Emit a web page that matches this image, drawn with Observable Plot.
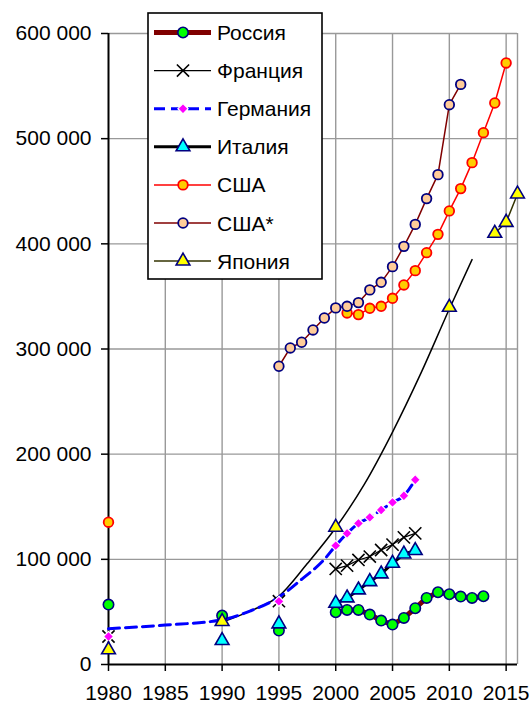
<!DOCTYPE html>
<html>
<head>
<meta charset="utf-8">
<script src="https://cdn.jsdelivr.net/npm/d3@7"></script>
<script src="https://cdn.jsdelivr.net/npm/@observablehq/plot@0.6"></script>
<style>
  html, body { margin: 0; padding: 0; background: #fff; }
  #wrap { position: relative; width: 529px; height: 703px; overflow: hidden; }
  #wrap > svg { position: absolute; left: 0; top: 0; }
</style>
</head>
<body>
<div id="wrap"></div>
<script>
// ---------- data ----------
const xTicks = [1980, 1985, 1990, 1995, 2000, 2005, 2010, 2015];
const yTicks = [0, 100000, 200000, 300000, 400000, 500000, 600000];

const russiaYears  = [1980, 1990, 1995, 2000, 2001, 2002, 2003, 2004, 2005, 2006, 2007, 2008, 2009, 2010, 2011, 2012, 2013];
const russiaValues = [57000, 46500, 32300, 49700, 51900, 51900, 47500, 41800, 38000, 44300, 53500, 63300, 68700, 66800, 64600, 63300, 64900];

const franceYears  = [1980, 1995, 2000, 2001, 2002, 2003, 2004, 2005, 2006, 2007];
const franceValues = [26600, 60200, 90900, 94000, 99400, 102600, 108900, 114000, 120900, 124700];

const germanyYears  = [1980, 1995, 2000, 2001, 2002, 2003, 2004, 2005, 2006, 2007];
const germanyValues = [26600, 60000, 113000, 124700, 134200, 139900, 146900, 154100, 160500, 175700];
const germanyTrendYears  = [1980, 1985, 1990, 1992.5, 1995, 1997, 1999];
const germanyTrendValues = [34000, 37500, 42500, 51000, 64000, 81000, 100000];

const italyYears  = [1990, 1995, 2000, 2001, 2002, 2003, 2004, 2005, 2006, 2007];
const italyValues = [22800, 38600, 58200, 63300, 70900, 78800, 86100, 96200, 105100, 108300];

const usaYears  = [1980, 2001, 2002, 2003, 2004, 2005, 2006, 2007, 2008, 2009, 2010, 2011, 2012, 2013, 2014, 2015];
const usaValues = [135300, 334300, 332700, 338700, 340600, 348200, 360900, 374500, 391600, 409000, 431300, 452500, 477200, 505700, 533900, 572000];

const usaStarYears  = [1995, 1996, 1997, 1998, 1999, 2000, 2001, 2002, 2003, 2004, 2005, 2006, 2007, 2008, 2009, 2010, 2011];
const usaStarValues = [283600, 301000, 306400, 318100, 329500, 339100, 340600, 344100, 356200, 363400, 378300, 397600, 418500, 443000, 465800, 532300, 551600];

const japanYears  = [1980, 1990, 2000, 2010, 2014, 2015, 2016];
const japanValues = [14000, 40800, 130500, 339600, 410000, 420400, 447400];
const japanTrendYears  = [1990.2, 1992.5, 1995, 1997.5, 2000, 2002.5, 2005, 2007.5, 2010, 2012];
const japanTrendValues = [41000, 51000, 65000, 96000, 130000, 171000, 221000, 277000, 338000, 385000];

const legendNames = ["Россия", "Франция", "Германия", "Италия", "США", "США*", "Япония"];

// ---------- styles ----------
const styles = {
  "Россия":   {line: "#800000", lw: 5,   dash: null,   symbol: "circle",   r: 5.2, fill: "#00ff00", stroke: "#000080", sw: 1.6, from: 2000},
  "Франция":  {line: "#000000", lw: 1.2, dash: null,   symbol: "times",    r: 5.6, fill: "none",    stroke: "#000000", sw: 1.6, from: 2000},
  "Германия": {line: "#0000ff", lw: 3,   dash: "11,6", symbol: "diamond2", r: 4.6, fill: "#ff00ff", stroke: "#ffffff", sw: 1.2, from: 1980},
  "Италия":   {line: "#000000", lw: 3,   dash: null,   symbol: "triangle", r: 5.1, fill: "#00ffff", stroke: "#000080", sw: 1.6, from: 2000},
  "США":      {line: "#ff0000", lw: 1.5, dash: null,   symbol: "circle",   r: 4.8, fill: "#ffcc00", stroke: "#ff0000", sw: 1.8, from: 2001},
  "США*":     {line: "#800000", lw: 1.5, dash: null,   symbol: "circle",   r: 4.8, fill: "#ffcc99", stroke: "#000080", sw: 1.8, from: 1995},
  "Япония":   {line: "#333300", lw: 1.5, dash: null,   symbol: "triangle", r: 5.1, fill: "#ffff00", stroke: "#000080", sw: 1.6, from: 2014}
};

const zip = (xs, ys) => xs.map((x, i) => ({x, y: ys[i]}));
const seriesData = {
  "Россия": zip(russiaYears, russiaValues),
  "Франция": zip(franceYears, franceValues),
  "Германия": zip(germanyYears, germanyValues),
  "Италия": zip(italyYears, italyValues),
  "США": zip(usaYears, usaValues),
  "США*": zip(usaStarYears, usaStarValues),
  "Япония": zip(japanYears, japanValues)
};
// Germany dashed line: read trend before 2000 joined with the series itself
const germanyLine = zip(germanyTrendYears, germanyTrendValues)
  .concat(seriesData["Германия"].filter(d => d.x >= 2000));
const japanTrend = zip(japanTrendYears, japanTrendValues);

const fmt = d => d3.format(",")(d).replace(/,/g, "\u00a0");
const FONT = "'Liberation Sans', Arial, sans-serif";

const lineMarks = legendNames.map(name => {
  const s = styles[name];
  const data = name === "Германия" ? germanyLine : seriesData[name].filter(d => d.x >= s.from);
  return Plot.line(data, {
    x: "x", y: "y", stroke: s.line, strokeWidth: s.lw,
    strokeDasharray: s.dash || undefined,
    curve: name === "Германия" ? "monotone-x" : "linear"
  });
});
const dotMarks = legendNames.map(name => {
  const s = styles[name];
  return Plot.dot(seriesData[name], {
    x: "x", y: "y", symbol: () => s.symbol, r: s.r,
    fill: s.fill, stroke: s.stroke, strokeWidth: s.sw
  });
});

const chart = Plot.plot({
  width: 529,
  height: 703,
  marginLeft: 108,
  marginRight: 12,
  marginTop: 33,
  marginBottom: 39,
  style: {fontFamily: FONT, fontSize: "21px", background: "white", color: "black", overflow: "visible"},
  x: {domain: [1980, 2016]},
  y: {domain: [0, 600000]},
  symbol: {type: "identity"},
  marks: [
    Plot.ruleX(xTicks.slice(1).concat([2016]), {stroke: "#999999", strokeWidth: 1.4}),
    Plot.ruleY(yTicks.slice(1), {stroke: "#999999", strokeWidth: 1.4}),
    Plot.axisX({ticks: xTicks, tickFormat: d => String(d), tickSize: 7, tickPadding: 14, label: null, fontSize: 21, strokeWidth: 1.5}),
    Plot.axisY({ticks: yTicks, tickFormat: fmt, tickSize: 7, tickPadding: 10, label: null, fontSize: 21, strokeWidth: 1.5}),
    Plot.ruleX([1980], {stroke: "black", strokeWidth: 2}),
    Plot.ruleY([0], {stroke: "black", strokeWidth: 2}),
    Plot.line(japanTrend, {x: "x", y: "y", stroke: "black", strokeWidth: 1.5, curve: "monotone-x"}),
    ...lineMarks,
    ...dotMarks
  ]
});
document.getElementById("wrap").appendChild(chart);

// ---------- legend (overlay) ----------
const symbolTypes = {circle: d3.symbolCircle, times: d3.symbolTimes, diamond2: d3.symbolDiamond2, triangle: d3.symbolTriangle};
const leg = d3.select("#wrap").append("svg")
  .attr("width", 529).attr("height", 703)
  .style("pointer-events", "none");
const box = {x: 148, y: 13, w: 174, h: 266, row0: 32.5, step: 38.1};
leg.append("rect")
  .attr("x", box.x).attr("y", box.y).attr("width", box.w).attr("height", box.h)
  .attr("fill", "white").attr("stroke", "black").attr("stroke-width", 1.6);
legendNames.forEach((name, i) => {
  const s = styles[name];
  const cy = box.row0 + i * box.step;
  const g = leg.append("g");
  g.append("line")
    .attr("x1", 154).attr("x2", 211).attr("y1", cy).attr("y2", cy)
    .attr("stroke", s.line).attr("stroke-width", s.lw)
    .attr("stroke-dasharray", s.dash || null);
  const sym = d3.symbol(symbolTypes[s.symbol], Math.PI * s.r * s.r);
  g.append("path")
    .attr("d", sym())
    .attr("transform", `translate(183,${cy})`)
    .attr("fill", s.fill).attr("stroke", s.stroke).attr("stroke-width", s.sw);
  g.append("text")
    .attr("x", 217).attr("y", cy).attr("dy", "0.36em")
    .attr("font-family", FONT).attr("font-size", 21)
    .text(name);
});
</script>
</body>
</html>
